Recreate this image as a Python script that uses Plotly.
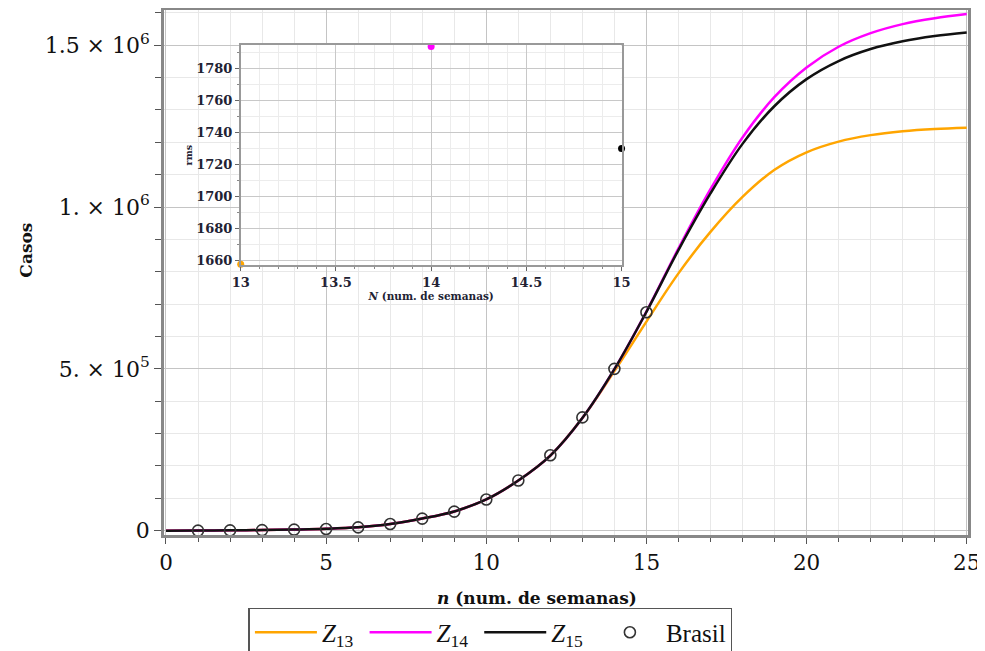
import plotly.graph_objects as go

# ---- data ----
n_curve = list(range(0, 26))
shared = [0, 400, 1000, 2000, 3500, 5800, 10500, 20500, 37500, 59500, 96500,
          155000, 232000, 348000]
Z13 = shared + [493000, 646000, 795000, 923000, 1031000, 1115000, 1169000,
                1202000, 1222000, 1234000, 1241000, 1245000]
Z14 = shared + [499000, 677000, 872000, 1055000, 1215000, 1340000, 1431000,
                1495000, 1537000, 1565000, 1583000, 1596000]
Z15 = shared + [499000, 676000, 867000, 1042000, 1195000, 1312000, 1395000,
                1451000, 1488000, 1512000, 1528000, 1539000]

n_brasil = list(range(1, 16))
brasil = [300, 900, 1800, 3200, 5200, 10400, 20700, 37300, 59000, 96300,
          155300, 233000, 350000, 500000, 675000]

N_inset = [13, 14, 15]
rms_inset = [1657.3, 1793.6, 1729.9]

y_tickvals = [0, 500000, 1000000, 1500000]
y_ticktext = ["0", "5. × 10<sup>5</sup>", "1. × 10<sup>6</sup>", "1.5 × 10<sup>6</sup>"]

ORANGE = "#FFA500"
MAGENTA = "#FF00FF"
BLACK = "#000000"

fig = go.Figure()

fig.add_trace(go.Scatter(x=n_curve, y=Z13, mode="lines",
                         name="<i>Z</i><sub>13</sub>&nbsp;",
                         line=dict(color=ORANGE, width=2.5, shape="spline")))
fig.add_trace(go.Scatter(x=n_curve, y=Z14, mode="lines",
                         name="<i>Z</i><sub>14</sub>&nbsp;",
                         line=dict(color=MAGENTA, width=2.5, shape="spline")))
fig.add_trace(go.Scatter(x=n_curve, y=Z15, mode="lines",
                         name="<i>Z</i><sub>15</sub>&nbsp;",
                         line=dict(color="#111111", width=2.5, shape="spline")))
fig.add_trace(go.Scatter(x=n_brasil, y=brasil, mode="markers", name="Brasil",
                         marker=dict(symbol="circle-open", size=11, color="#333333",
                                     line=dict(width=1.6, color="#333333"))))

# inset
fig.add_trace(go.Scatter(x=N_inset, y=rms_inset, mode="markers", showlegend=False,
                         xaxis="x2", yaxis="y2", cliponaxis=False,
                         marker=dict(size=7, color=[ORANGE, MAGENTA, BLACK])))

serif = "DejaVu Serif"

# the page body has an 8px margin, so the figure is sized/offset to compensate
fig.update_layout(
    width=977, height=643,
    margin=dict(l=156, r=17, t=2, b=116, autoexpand=False),
    paper_bgcolor="white", plot_bgcolor="white",
    showlegend=True,
    legend=dict(orientation="h", x=0.406, xanchor="center", y=-0.139, yanchor="top",
                bordercolor="#555555", borderwidth=1.5, bgcolor="white",
                font=dict(family="Liberation Serif", size=25, color="#111111"),
                itemwidth=62, tracegroupgap=0),
    xaxis=dict(range=[-0.062, 25.04], domain=[0, 1], automargin=False,
               tickvals=[0, 5, 10, 15, 20, 25], ticks="outside", ticklen=6, tickwidth=1.2,
               tickcolor="#555555",
               tickfont=dict(family=serif, size=21.5, color="#111111"),
               showline=True, linecolor="#888888", linewidth=2.5, mirror=True,
               showgrid=True, gridcolor="#c4c4c4", gridwidth=1.2, zeroline=False,
               minor=dict(dtick=1, ticks="outside", ticklen=4, tickcolor="#555555",
                          showgrid=True, gridcolor="#e8e8e8", gridwidth=1)),
    yaxis=dict(range=[-13300, 1608600], domain=[0, 1], automargin=False,
               tickvals=y_tickvals, ticktext=y_ticktext, ticks="outside", ticklen=7,
               tickwidth=1.2, tickcolor="#555555",
               tickfont=dict(family=serif, size=22, color="#111111"),
               showline=True, linecolor="#888888", linewidth=2.5, mirror=True,
               showgrid=True, gridcolor="#c4c4c4", gridwidth=1.2, zeroline=False,
               minor=dict(dtick=100000, ticks="outside", ticklen=6, tickcolor="#555555",
                          showgrid=True, gridcolor="#e8e8e8", gridwidth=1)),
    xaxis2=dict(domain=[0.0954, 0.5691], anchor="y2", range=[13, 15], automargin=False,
                tickvals=[13, 13.5, 14, 14.5, 15], ticktext=["13", "13.5", "14", "14.5", "15"],
                ticks="outside", ticklen=4, tickcolor="#666666",
                tickfont=dict(family=serif, size=13, color="#222233", weight="bold"),
                showline=True, linecolor="#999999", linewidth=1.5, mirror=True,
                showgrid=True, gridcolor="#c8c8c8", gridwidth=1, zeroline=False,
                minor=dict(dtick=0.1, ticks="outside", ticklen=2, tickcolor="#888888",
                           showgrid=True, gridcolor="#ececec"),
                title=dict(text="<b><i>N</i> (num. de semanas)</b>", standoff=0,
                           font=dict(family=serif, size=10.5, color="#222233"))),
    yaxis2=dict(domain=[0.5137, 0.9333], anchor="x2", range=[1656.7, 1794.6],
                automargin=False,
                tickvals=[1660, 1680, 1700, 1720, 1740, 1760, 1780],
                ticks="outside", ticklen=4, tickcolor="#666666",
                tickfont=dict(family=serif, size=13, color="#222233", weight="bold"),
                showline=True, linecolor="#999999", linewidth=1.5, mirror=True,
                showgrid=True, gridcolor="#c8c8c8", gridwidth=1, zeroline=False,
                minor=dict(dtick=10, ticks="outside", ticklen=2, tickcolor="#888888",
                           showgrid=True, gridcolor="#ececec"),
                title=dict(text="<b>rms</b>", standoff=2,
                           font=dict(family=serif, size=9.5, color="#222233"))),
    annotations=[
        dict(text="<b><i>n</i> (num. de semanas)</b>", xref="paper", yref="paper",
             x=0.464, y=-0.12, xanchor="center", yanchor="middle", showarrow=False,
             font=dict(family=serif, size=17, color="#111111")),
        dict(text="<b>Casos</b>", xref="paper", yref="paper", textangle=-90,
             x=-0.172, y=0.543, xanchor="center", yanchor="middle", showarrow=False,
             font=dict(family=serif, size=17, color="#111111")),
    ],
)

fig.write_html("out.html")
